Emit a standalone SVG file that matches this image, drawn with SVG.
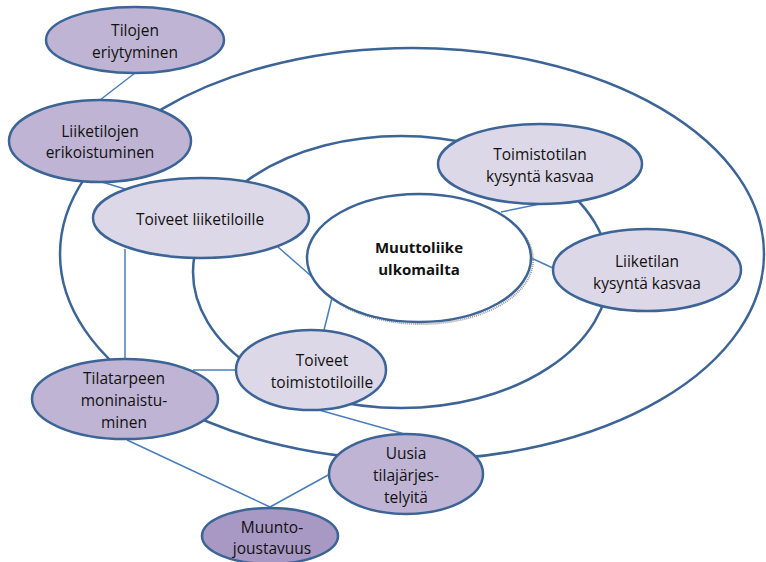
<svg xmlns="http://www.w3.org/2000/svg" width="766" height="562" viewBox="0 0 766 562">
<style>
.ring{fill:none;stroke:#3c6496;stroke-width:2.5}
.n{stroke:#3c6496;stroke-width:2.5}
.dark{fill:#bfb4d4}
.light{fill:#ddd8e8}
.deep{fill:#a898c4}
.c{stroke:#4a7ebb;stroke-width:1.5;fill:none}
text{font-family:"Open Sans","Liberation Sans",sans-serif;font-size:15.5px;fill:#111;text-anchor:middle}
.b{font-weight:bold;font-size:15px}
</style>
<rect width="766" height="562" fill="#fff"/>
<g id="rings">
<ellipse class="ring" cx="412" cy="254" rx="352" ry="206"/>
<ellipse class="ring" cx="401" cy="272" rx="208" ry="136"/>
</g>
<g id="connectors">
<line class="c" x1="135" y1="73" x2="100" y2="100"/>
<line class="c" x1="102" y1="182" x2="125" y2="189"/>
<line class="c" x1="125" y1="249" x2="125" y2="359"/>
<line class="c" x1="278" y1="247" x2="318" y2="282"/>
<line class="c" x1="332" y1="298" x2="324" y2="330"/>
<line class="c" x1="501" y1="212" x2="540" y2="204"/>
<line class="c" x1="529" y1="257" x2="555" y2="269"/>
<line class="c" x1="193" y1="370" x2="236" y2="370"/>
<line class="c" x1="262" y1="394" x2="408" y2="435"/>
<line class="c" x1="127" y1="440" x2="270" y2="507"/>
<line class="c" x1="270" y1="507" x2="330" y2="474"/>
</g>
<g id="muuttoliike">
<ellipse cx="421" cy="260" rx="112" ry="64" fill="none" stroke="#999" stroke-width="2" stroke-dasharray="1 1"/>
<ellipse cx="419" cy="258" rx="112" ry="64" fill="#fff" class="n"/>
<text class="b" x="419" y="253">Muuttoliike</text>
<text class="b" x="419" y="275">ulkomailta</text>
</g>
<g id="tilojen">
<ellipse class="n dark" cx="135" cy="40" rx="89" ry="33"/>
<text x="135" y="36">Tilojen</text>
<text x="135" y="58">eriytyminen</text>
</g>
<g id="liiketilojen">
<ellipse class="n dark" cx="100" cy="141" rx="91" ry="41"/>
<text x="100" y="137">Liiketilojen</text>
<text x="100" y="158">erikoistuminen</text>
</g>
<g id="toiveet-liiketiloille">
<ellipse class="n light" cx="201" cy="218" rx="108" ry="40"/>
<text x="200" y="225">Toiveet liiketiloille</text>
</g>
<g id="toimistotilan">
<ellipse class="n light" cx="540" cy="164" rx="102" ry="40"/>
<text x="540" y="160">Toimistotilan</text>
<text x="540" y="182">kysyntä kasvaa</text>
</g>
<g id="liiketilan">
<ellipse class="n light" cx="647" cy="270" rx="94" ry="41"/>
<text x="647" y="267">Liiketilan</text>
<text x="647" y="289">kysyntä kasvaa</text>
</g>
<g id="toiveet-toimistotiloille">
<ellipse class="n light" cx="311" cy="370" rx="75" ry="40"/>
<text x="322" y="366">Toiveet</text>
<text x="322" y="388">toimistotiloille</text>
</g>
<g id="tilatarpeen">
<ellipse class="n dark" cx="125" cy="399" rx="93" ry="40"/>
<text x="124" y="384">Tilatarpeen</text>
<text x="124" y="406">moninaistu-</text>
<text x="124" y="428">minen</text>
</g>
<g id="uusia">
<ellipse class="n dark" cx="406" cy="474" rx="77" ry="40"/>
<text x="406" y="459">Uusia</text>
<text x="406" y="481">tilajärjes-</text>
<text x="406" y="503">telyitä</text>
</g>
<g id="muunto">
<ellipse class="n deep" cx="270" cy="536" rx="68" ry="28"/>
<text x="272" y="533">Muunto-</text>
<text x="272" y="554">joustavuus</text>
</g>
</svg>
